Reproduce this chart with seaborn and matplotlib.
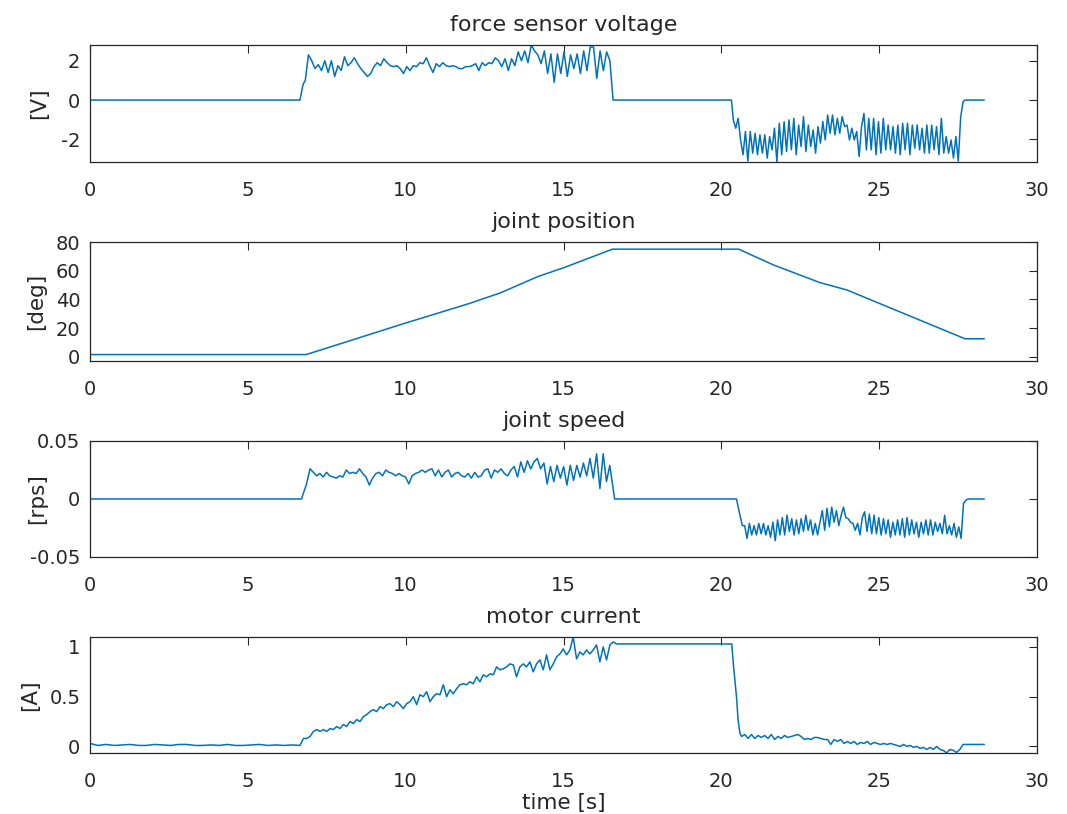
import numpy as np
import pandas as pd
import matplotlib
matplotlib.use("Agg")
import matplotlib.pyplot as plt
import seaborn as sns
from matplotlib.ticker import FuncFormatter

# ---- data ----
T_END = 28.33

# force sensor voltage [V]
force_lead_t = [0.0, 6.65, 6.75, 6.82]
force_lead_v = [0.0, 0.0, 0.8, 1.0]
force_seg1_span = (6.92, 16.47)
force_seg1 = [2.3, 2.0, 1.6, 1.8, 1.5, 2.0, 1.4, 2.0, 1.2, 1.75, 1.5, 2.2, 1.75, 1.9,
              2.15, 1.85, 1.6, 1.4, 1.2, 1.35, 1.7, 1.9, 1.75, 2.1, 1.9, 1.75, 1.7,
              1.75, 1.6, 1.35, 1.7, 1.5, 1.75, 1.7, 1.9, 1.85, 2.15, 1.75, 1.4, 1.85,
              1.7, 1.9, 1.75, 1.7, 1.75, 1.7, 1.6, 1.6, 1.7, 1.7, 1.75, 1.85, 1.5,
              1.9, 1.75, 1.9, 1.85, 2.15, 2.0, 1.7, 2.1, 1.5, 2.1, 1.75, 2.45, 2.0,
              2.5, 1.9, 2.8, 2.5, 2.3, 1.85, 2.5, 1.35, 2.35, 0.9, 2.35, 1.35, 2.45,
              1.2, 2.3, 1.6, 2.35, 1.35, 2.5, 1.5, 2.7, 2.7, 1.1, 2.5, 1.5, 2.45, 2.0]
force_mid_t = [16.57, 20.32]
force_mid_v = [0.0, 0.0]
force_seg2_span = (20.38, 27.66)
force_seg2 = [-1.01, -1.43, -0.93, -2.03, -2.78, -1.60, -3.10, -1.60, -2.70, -1.69,
              -2.78, -1.77, -2.70, -1.77, -2.95, -1.86, -2.53, -1.43, -3.15, -1.18,
              -2.78, -1.10, -2.62, -1.01, -2.53, -0.93, -2.78, -1.27, -2.36, -0.84,
              -2.62, -1.27, -2.36, -1.52, -2.70, -1.35, -2.19, -1.10, -2.03, -0.76,
              -1.69, -0.76, -1.77, -0.93, -1.69, -0.84, -1.35, -1.27, -2.03, -1.43,
              -2.03, -1.60, -2.87, -1.35, -0.68, -2.53, -0.93, -2.53, -0.93, -2.78,
              -1.10, -2.70, -0.93, -2.53, -1.27, -2.53, -1.35, -2.70, -1.27, -2.78,
              -1.18, -2.53, -1.18, -2.78, -1.27, -2.45, -1.27, -2.53, -1.43, -2.70,
              -1.27, -2.70, -1.27, -2.53, -1.35, -2.78, -0.93, -2.70, -1.86, -2.70,
              -2.03, -2.95, -1.86, -3.10, -0.84, -0.08]
force_tail_t = [27.72, T_END]
force_tail_v = [0.0, 0.0]

# joint position [deg]
pos_t = [0.0, 6.85, 8.5, 10.0, 12.0, 13.0, 14.2, 15.0, 16.55, 20.55, 21.65, 23.12,
         23.97, 27.72, T_END]
pos_v = [1.5, 1.5, 13.0, 23.5, 37.0, 44.5, 56.0, 62.0, 75.0, 75.0, 64.0, 51.7,
         46.6, 12.5, 12.5]

# joint speed [rps]
speed_lead_t = [0.0, 6.70, 6.81, 6.86]
speed_lead_v = [0.0, 0.0, 0.009, 0.013]
speed_seg1_span = (6.97, 16.57)
speed_seg1 = [.026, .023, .020, .022, .019, .023, .020, .019, .018, .020, .019, .025,
              .022, .023, .022, .026, .022, .019, .012, .018, .022, .023, .020, .025,
              .023, .022, .020, .022, .020, .019, .013, .020, .022, .023, .025, .023,
              .025, .026, .020, .025, .019, .023, .025, .019, .022, .023, .020, .019,
              .022, .018, .023, .019, .020, .025, .026, .018, .025, .023, .026, .022,
              .020, .025, .028, .019, .032, .023, .033, .026, .032, .035, .026, .031,
              .013, .028, .015, .029, .018, .028, .012, .029, .016, .029, .019, .031,
              .020, .035, .018, .039, .009, .039, .015, .029, .009]
speed_mid_t = [16.62, 20.48]
speed_mid_v = [0.0, 0.0]
speed_seg2_span = (20.59, 27.82)
speed_seg2 = [-.014, -.023, -.023, -.034, -.021, -.031, -.023, -.031, -.021, -.030,
              -.021, -.031, -.023, -.033, -.020, -.036, -.018, -.031, -.016, -.031,
              -.014, -.028, -.017, -.031, -.018, -.030, -.017, -.028, -.014, -.027,
              -.018, -.031, -.021, -.031, -.020, -.010, -.027, -.008, -.024, -.007,
              -.020, -.010, -.023, -.014, -.007, -.016, -.017, -.020, -.021, -.027,
              -.021, -.031, -.016, -.011, -.028, -.013, -.030, -.014, -.030, -.016,
              -.031, -.017, -.030, -.018, -.033, -.020, -.031, -.018, -.031, -.017,
              -.033, -.016, -.031, -.018, -.030, -.020, -.033, -.020, -.030, -.018,
              -.031, -.018, -.031, -.020, -.028, -.021, -.030, -.014, -.030, -.023,
              -.031, -.021, -.033, -.024, -.034, -.004, -.001, 0.0]
speed_tail_t = [27.9, T_END]
speed_tail_v = [0.0, 0.0]

# motor current [A]
cur_base_span = (0.0, 6.65)
cur_base = [0.03, 0.01, 0.02, 0.01, 0.015, 0.02, 0.01, 0.01, 0.02, 0.015, 0.01, 0.02,
            0.02, 0.01, 0.01, 0.015, 0.01, 0.02, 0.01, 0.01, 0.015, 0.02, 0.01, 0.015,
            0.01, 0.015, 0.01]
cur_seg1_span = (6.76, 16.68)
cur_seg1 = [.08, .08, .10, .15, .17, .15, .17, .15, .18, .17, .20, .18, .22, .20, .25,
            .23, .27, .25, .30, .32, .35, .37, .35, .40, .38, .42, .43, .40, .45, .42,
            .38, .43, .45, .50, .42, .52, .50, .55, .45, .50, .53, .52, .62, .50, .57,
            .53, .58, .62, .63, .62, .65, .63, .70, .65, .72, .70, .73, .72, .80, .77,
            .78, .80, .83, .82, .70, .80, .83, .80, .85, .75, .83, .87, .77, .92, .77,
            .83, .90, .93, .98, .92, .97, 1.10, .88, .95, .92, .97, .93, .97, 1.02, .85,
            1.0, .87, 1.02, 1.05, 1.03]
cur_mid_t = [20.33, 20.38, 20.48, 20.53, 20.59]
cur_mid_v = [1.03, 0.83, 0.50, 0.27, 0.13]
cur_seg2_span = (20.64, 27.66)
cur_seg2 = [.10, .12, .08, .12, .08, .11, .09, .11, .08, .12, .07, .10, .08, .11, .09,
            .10, .11, .12, .10, .07, .08, .07, .09, .09, .08, .07, .07, .02, .07, .05,
            .07, .03, .05, .03, .05, .02, .04, .03, .05, .02, .04, .03, .02, .03, .02,
            .03, .02, .01, .00, .02, .00, .01, -.01, .00, -.02, -.01, -.03, -.01, -.03,
            .00, -.03, -.04, -.065, -.03, -.04, -.06, -.03, .02]
cur_tail_t = [27.72, T_END]
cur_tail_v = [0.02, 0.02]


def build(pieces):
    # pieces: (times, values) pairs, or (span, values) for evenly sampled runs
    ts, vs = [], []
    for a, b in pieces:
        if isinstance(a, tuple):
            ts.append(np.linspace(a[0], a[1], len(b)))
        else:
            ts.append(np.asarray(a, dtype=float))
        vs.append(np.asarray(b, dtype=float))
    return pd.DataFrame({"t": np.concatenate(ts), "v": np.concatenate(vs)})


force = build([(force_lead_t, force_lead_v), (force_seg1_span, force_seg1),
               (force_mid_t, force_mid_v), (force_seg2_span, force_seg2),
               (force_tail_t, force_tail_v)])
pos = build([(pos_t, pos_v)])
speed = build([(speed_lead_t, speed_lead_v), (speed_seg1_span, speed_seg1),
               (speed_mid_t, speed_mid_v), (speed_seg2_span, speed_seg2),
               (speed_tail_t, speed_tail_v)])
cur = build([(cur_base_span, cur_base), (cur_seg1_span, cur_seg1),
             (cur_mid_t, cur_mid_v), (cur_seg2_span, cur_seg2),
             (cur_tail_t, cur_tail_v)])

# data, title, ylabel, ylim, yticks, ylabel x (axes coords)
panels = [
    (force, "force sensor voltage", "[V]", (-3.15, 2.8), [-2, 0, 2], -0.043),
    (pos, "joint position", "[deg]", (-3, 80), [0, 20, 40, 60, 80], -0.046),
    (speed, "joint speed", "[rps]", (-0.05, 0.05), [-0.05, 0, 0.05], -0.045),
    (cur, "motor current", "[A]", (-0.066, 1.1), [0, 0.5, 1], -0.053),
]

sns.set_style("white")
plt.rcParams["font.family"] = ["DejaVu Sans"]
plt.rcParams["axes.unicode_minus"] = False

DARK = "#262626"
BLUE = "#0072BD"

fig, axes = plt.subplots(4, 1, figsize=(10.67, 8.14), dpi=100)
tops = [45, 242, 441, 637]
bots = [162, 361, 557, 753]

for ax, (df, title, ylab, ylim, yticks, ylx), top, bot in zip(axes, panels, tops, bots):
    ax.set_position([90 / 1067, 1 - bot / 814, 947 / 1067, (bot - top) / 814])
    sns.lineplot(data=df, x="t", y="v", ax=ax, color=BLUE, linewidth=1.1,
                 estimator=None, sort=False)
    ax.set_xlim(0, 30)
    ax.set_ylim(*ylim)
    ax.set_xticks(range(0, 31, 5))
    ax.set_yticks(yticks)
    ax.yaxis.set_major_formatter(FuncFormatter(lambda v, p: "%g" % v))
    ax.set_title(title, fontsize=16, color=DARK, pad=10)
    ax.set_ylabel(ylab, fontsize=15.5, color=DARK)
    ax.yaxis.set_label_coords(ylx, 0.5)
    ax.set_xlabel("")
    ax.tick_params(direction="in", length=6, width=0.8, colors=DARK,
                   labelsize=14, top=True, right=True)
    ax.tick_params(axis="x", pad=14)
    ax.tick_params(axis="y", pad=7)
    for s in ax.spines.values():
        s.set_color(DARK)
        s.set_linewidth(0.9)

axes[-1].set_xlabel("time [s]", fontsize=15.5, color=DARK, labelpad=1)

fig.savefig("out.png", dpi=100)
